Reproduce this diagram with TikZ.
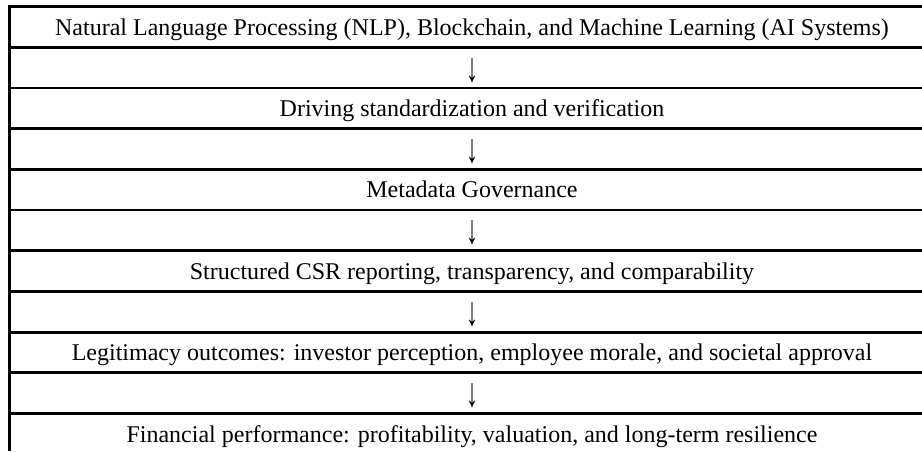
\documentclass[tikz,border=0pt]{standalone}
\usepackage{fontspec}
\setmainfont{Liberation Serif}
\usepackage{tikz}

\tikzset{
    cell/.style={anchor=base, inner sep=0pt, font=\fontsize{18}{21}\selectfont},
    down/.style={anchor=center, inner sep=0pt, font=\fontsize{18}{21}\selectfont},
    rule/.style={black, line width=2.1pt}
}
\newcommand{\longdown}{\scalebox{1}[1.7]{↓}} % taller arrow glyph

\begin{document}
\begin{tikzpicture}[x=0.75pt, y=-0.75pt]
        \useasboundingbox (0,0) rectangle (922,451);
        % table rules: one line on top of every row, no bottom and no right edge
        \foreach \k in {0,...,10}{
            \draw[rule] (9.5,6.5+40.7*\k) -- (922,6.5+40.7*\k);
        }
        \draw[rule] (9.5,5.1) -- (9.5,451); % left edge

        % row texts, baseline 28.5 below each rule
        \node[cell] (ai)     at (472,6.5+28.5)          {Natural Language Processing (NLP), Blockchain, and Machine Learning (AI Systems)};
        \node[down] (down1)  at (472,6.5+40.7+23)       {\longdown};
        \node[cell] (std)    at (472,6.5+2*40.7+28.5)   {Driving standardization and verification};
        \node[down] (down2)  at (472,6.5+3*40.7+23)     {\longdown};
        \node[cell] (meta)   at (472,6.5+4*40.7+28.5)   {Metadata Governance};
        \node[down] (down3)  at (472,6.5+5*40.7+23)     {\longdown};
        \node[cell] (csr)    at (472,6.5+6*40.7+28.5)   {Structured CSR reporting, transparency, and comparability};
        \node[down] (down4)  at (472,6.5+7*40.7+23)     {\longdown};
        \node[cell] (legit)  at (472,6.5+8*40.7+28.5)   {Legitimacy outcomes: investor perception, employee morale, and societal approval};
        \node[down] (down5)  at (472,6.5+9*40.7+23)     {\longdown};
        \node[cell] (fin)    at (472,6.5+10*40.7+28.5)  {Financial performance: profitability, valuation, and long-term resilience};
    \end{tikzpicture}
\end{document}
